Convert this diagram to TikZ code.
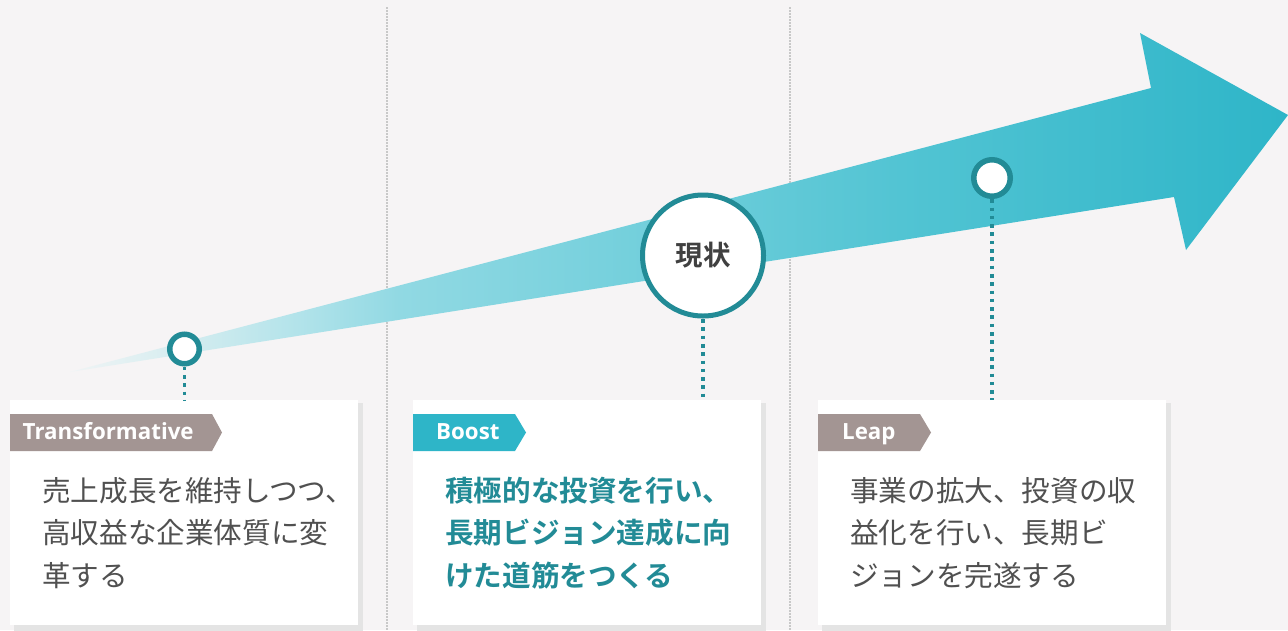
\documentclass[tikz,border=0pt]{standalone}
\usepackage{fontspec}
\setmainfont{Noto Sans CJK JP}[BoldFont={Noto Sans CJK JP Bold}]
\newfontfamily\tagfont{Open Sans}
\definecolor{bg}{RGB}{246,244,245}
\definecolor{ringteal}{RGB}{34,139,150}
\definecolor{cyanA}{RGB}{46,181,200}
\definecolor{taupe}{RGB}{163,149,147}
\definecolor{txtgray}{RGB}{80,80,80}
\definecolor{darktxt}{RGB}{64,64,64}
\definecolor{shadowc}{RGB}{228,228,228}
\definecolor{vlinec}{RGB}{200,200,200}
\definecolor{sA}{RGB}{240,244,245}
\definecolor{sB}{RGB}{214,237,240}
\definecolor{sC}{RGB}{178,227,234}
\definecolor{sD}{RGB}{145,217,227}
\definecolor{sE}{RGB}{120,209,221}
\definecolor{sF}{RGB}{82,196,211}
\pgfdeclarehorizontalshading{arrowshade}{100bp}{color(0bp)=(sA); color(25bp)=(sA); color(29.5bp)=(sB); color(34.4bp)=(sC); color(38.5bp)=(sD); color(46.8bp)=(sE); color(59.1bp)=(sF); color(75bp)=(cyanA); color(100bp)=(cyanA)}
\tikzset{
  ring/.style={circle, draw=ringteal, fill=white, inner sep=0pt, outer sep=0pt},
  dotline/.style={draw=ringteal, line width=3.6pt, dash pattern=on 3.6pt off 4.7pt},
  sepline/.style={draw=vlinec, line width=1.4pt, dash pattern=on 1.5pt off 1.5pt},
  card/.style={fill=white, inner sep=0pt, outer sep=0pt, minimum width=348pt, minimum height=225pt, anchor=north west},
  cardshadow/.style={fill=shadowc},
  tagtext/.style={text=white, font=\tagfont\bfseries\fontsize{22.3}{22}\selectfont, inner sep=0pt, anchor=base west},
  body/.style={text=txtgray, font=\fontsize{28.6}{42.5}\selectfont, align=left, inner sep=0pt, anchor=base west},
  bodybold/.style={body, text=ringteal, font=\bfseries\fontsize{28.6}{42.5}\selectfont}
}
\begin{document}
\begin{tikzpicture}[x=1pt, y=-1pt]
\useasboundingbox (0,0) rectangle (1288,630);
\fill[bg] (0,0) rectangle (1288,630);
% separators
\coordinate (s1top) at (387,7);
\coordinate (s1bot) at (387,630);
\coordinate (s2top) at (790,7);
\coordinate (s2bot) at (790,630);
\draw[sepline] (s1top) -- (s1bot);
\draw[sepline] (s2top) -- (s2bot);
% arrow
\shade[shading=arrowshade] (70,372) -- (1151,88) -- (1140,33) -- (1288,115) -- (1186,250) -- (1174,197) -- cycle;
% card shadows
\fill[cardshadow] (14,403) rectangle (363,632);
\fill[cardshadow] (417,403) rectangle (766,632);
\fill[cardshadow] (822,403) rectangle (1171,632);
% cards
\node[card] (card1) at (10,400) {};
\node[card] (card2) at (413,400) {};
\node[card] (card3) at (818,400) {};
% tags
\fill[taupe] (10,414) -- (212,414) -- (222,432.5) -- (212,451) -- (10,451) -- cycle;
\fill[cyanA] (413,414) -- (515,414) -- (526,432.5) -- (515,451) -- (413,451) -- cycle;
\fill[taupe] (818,414) -- (920,414) -- (931,432.5) -- (920,451) -- (818,451) -- cycle;
\node[tagtext] (tag1) at (22.5,439.3) {Transformative};
\node[tagtext] (tag2) at (436,439.3) {Boost};
\node[tagtext] (tag3) at (842,439.3) {Leap};
% body texts (anchor = baseline of last line)
\node[body] (txt1) at (42,586) {売上成長を維持しつつ、\\高収益な企業体質に変\\革する};
\node[bodybold] (txt2) at (445,586) {積極的な投資を行い、\\長期ビジョン達成に向\\けた道筋をつくる};
\node[body] (txt3) at (850,586) {事業の拡大、投資の収\\益化を行い、長期ビ\\ジョンを完遂する};
% circles
\node[ring, line width=5.5pt, minimum size=29.5pt] (c1) at (184.5,349) {};
\node[ring, line width=5pt, minimum size=121pt, text=darktxt, font=\bfseries\fontsize{27.5}{27.5}\selectfont] (c2) at (703,255.5) {現状};
\node[ring, line width=5.5pt, minimum size=36.5pt] (c3) at (992,178) {};
% connectors
\draw[dotline] ([yshift=-3pt]c1.south) -- (c1.south |- card1.north);
\draw[dotline] ([yshift=-3pt]c2.south) -- (c2.south |- card2.north);
\draw[dotline] ([yshift=-3pt]c3.south) -- (c3.south |- card3.north);
\end{tikzpicture}
\end{document}
